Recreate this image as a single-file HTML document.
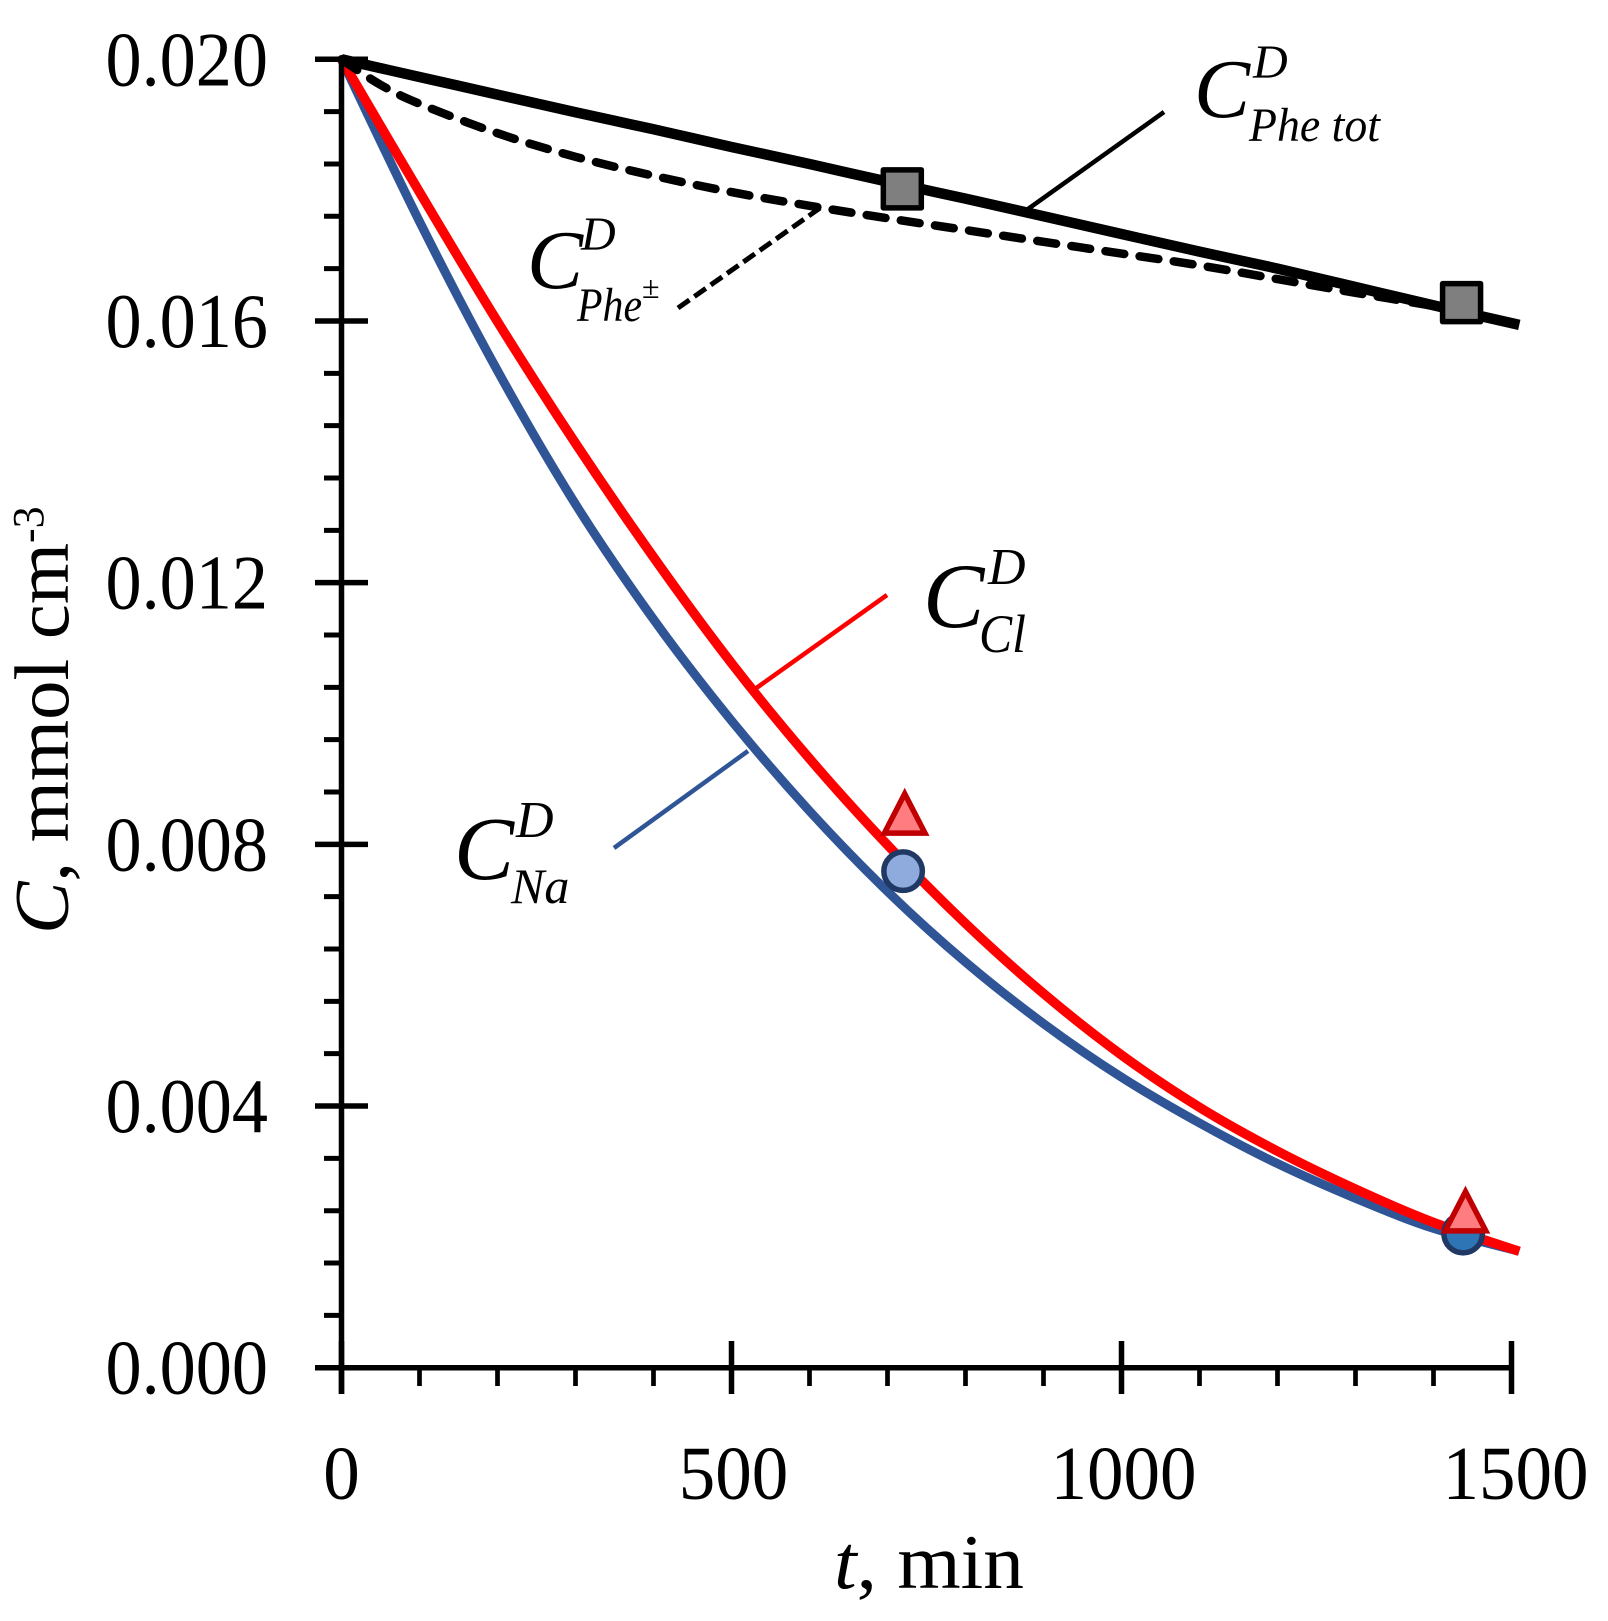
<!DOCTYPE html>
<html lang="en">
<head>
<meta charset="utf-8">
<title>Concentration vs time chart</title>
<style>
html,body{margin:0;padding:0;background:#fff;width:1608px;height:1621px;overflow:hidden}
svg{display:block;font-family:"Liberation Serif",serif;fill:#000}
.it{font-style:italic}
</style>
</head>
<body>
<svg id="chart" xmlns="http://www.w3.org/2000/svg" width="1608" height="1621" viewBox="0 0 1608 1621">
<rect x="0" y="0" width="1608" height="1621" fill="#fff"/>
<g id="series-layer"></g>
<g id="axis-layer"></g>
<g fill="none">
<line x1="1028" y1="209" x2="1164" y2="112" stroke="#000" stroke-width="4.5"/>
<line x1="678" y1="308" x2="820" y2="208" stroke="#000" stroke-width="5" stroke-dasharray="14 6"/>
<line x1="755" y1="689" x2="887" y2="595" stroke="#ff0000" stroke-width="4.5"/>
<line x1="614" y1="848" x2="748" y2="751" stroke="#2f5597" stroke-width="4.5"/>
</g>
<g id="marker-layer"></g>

<g>
<text class="it" x="1194" y="117" font-size="84">C</text>
<text class="it" x="1253" y="78" font-size="48">D</text>
<text class="it" x="1249" y="141" font-size="48" textLength="131" lengthAdjust="spacingAndGlyphs">Phe tot</text>
</g>
<g>
<text class="it" x="527" y="288" font-size="84">C</text>
<text class="it" x="581" y="250" font-size="48">D</text>
<text class="it" x="577" y="321" font-size="48" textLength="65" lengthAdjust="spacingAndGlyphs">Phe</text>
<text x="642" y="298" font-size="32">±</text>
</g>
<g>
<text class="it" x="923" y="627" font-size="92">C</text>
<text class="it" x="988" y="584" font-size="52">D</text>
<text class="it" x="979" y="652" font-size="54" textLength="47" lengthAdjust="spacingAndGlyphs">Cl</text>
</g>
<g>
<text class="it" x="454" y="879" font-size="90">C</text>
<text class="it" x="516" y="837" font-size="52">D</text>
<text class="it" x="511" y="903" font-size="50">Na</text>
</g>

<text x="834" y="1588" font-size="77" textLength="190" lengthAdjust="spacingAndGlyphs"><tspan class="it">t</tspan>, min</text>
<g transform="translate(68,934) rotate(-90)">
<text x="0" y="0" font-size="77" textLength="391" lengthAdjust="spacingAndGlyphs"><tspan class="it">C</tspan>, mmol cm</text>
<text x="391" y="-25" font-size="44">-3</text>
</g>
</svg>

<script>
// Chart data (time in min, concentration in mmol cm^-3)
const timesMain = [0,100,200,300,400,500,600,700,800,900,1000,1100,1200,1300,1400,1510];
const cNa = [0.0200,0.01752,0.01524,0.01320,0.01144,0.00989,0.00851,0.00728,0.00620,0.00526,0.00444,0.00374,0.00312,0.00259,0.00213,0.00178];
const cCl = [0.0200,0.01797,0.01599,0.01413,0.01239,0.01077,0.00931,0.00799,0.00679,0.00572,0.00478,0.00398,0.00331,0.00273,0.00222,0.00178];
const cPheTot = [0.0200,0.01973,0.01946,0.01919,0.01893,0.01866,0.01840,0.01813,0.01787,0.01760,0.01733,0.01706,0.01680,0.01652,0.01624,0.01594];
const timesZw = [0,50,100,200,300,400,500,600,700,800,900,1000,1100,1200,1300,1400,1440];
const cPheZw = [0.0200,0.01961,0.01932,0.01887,0.01851,0.01822,0.01797,0.01776,0.01757,0.01739,0.01721,0.01703,0.01685,0.01664,0.01643,0.01623,0.01614];
const squareT = [719,1436];
const squareC = [0.01802,0.01628];
const circleT = [720,1438];
const circleC = [0.00759,0.00205];
const triangleT = [722,1441];
const triangleC = [0.00850,0.00242];
const xTickLabels = ["0","500","1000","1500"];
const yTickLabels = ["0.000","0.004","0.008","0.012","0.016","0.020"];
const xMinorStep = 100;
const yMinorStep = 0.0008;

// Axis functions
const xScale = t => 341.5 + 0.78 * t;
const yScale = c => 1367.7 - 65420 * c;

const NS = "http://www.w3.org/2000/svg";
function make(tag, attrs, parent) {
  const el = document.createElementNS(NS, tag);
  for (const k in attrs) el.setAttribute(k, attrs[k]);
  parent.appendChild(el);
  return el;
}
function smoothPath(ts, cs) {
  const p = ts.map((t, i) => [xScale(t), yScale(cs[i])]);
  let d = "M" + p[0][0].toFixed(1) + " " + p[0][1].toFixed(1);
  for (let i = 0; i < p.length - 1; i++) {
    const a = p[Math.max(0, i - 1)], b = p[i], c = p[i + 1], e = p[Math.min(p.length - 1, i + 2)];
    const c1x = b[0] + (c[0] - a[0]) / 6, c1y = b[1] + (c[1] - a[1]) / 6;
    const c2x = c[0] - (e[0] - b[0]) / 6, c2y = c[1] - (e[1] - b[1]) / 6;
    d += " C" + c1x.toFixed(1) + " " + c1y.toFixed(1) + " " + c2x.toFixed(1) + " " + c2y.toFixed(1) + " " + c[0].toFixed(1) + " " + c[1].toFixed(1);
  }
  return d;
}

// Series
const seriesLayer = document.getElementById("series-layer");
const lineNa = make("path", {d: smoothPath(timesMain, cNa), fill: "none", stroke: "#2f5597", "stroke-width": 9}, seriesLayer);


const lineCl = make("path", {d: smoothPath(timesMain, cCl), fill: "none", stroke: "#ff0000", "stroke-width": 9.5}, seriesLayer);


const linePheZw = make("path", {d: smoothPath(timesZw, cPheZw), fill: "none", stroke: "#000", "stroke-width": 8.5, "stroke-linecap": "round", "stroke-dasharray": "19 15.5"}, seriesLayer);


const linePheTot = make("path", {d: smoothPath(timesMain, cPheTot), fill: "none", stroke: "#000", "stroke-width": 10.5}, seriesLayer);



// Axes
const axisLayer = document.getElementById("axis-layer");
const yAxisLine = make("line", {x1: xScale(0), x2: xScale(0), y1: yScale(0.02) - 3, y2: 1394, stroke: "#000", "stroke-width": 5.5}, axisLayer);


const xAxisLine = make("line", {x1: 315, x2: xScale(1500) + 2.5, y1: yScale(0), y2: yScale(0), stroke: "#000", "stroke-width": 5.5}, axisLayer);



xTickLabels.forEach(label => {
  const t = Number(label);
  const tick = make("line", {x1: xScale(t), x2: xScale(t), y1: 1341, y2: 1394, stroke: "#000", "stroke-width": 5.5}, axisLayer);
  
  
  const offset = t === 0 ? 0 : t === 500 ? 2 : t === 1000 ? 2 : 4;
  const txt = make("text", {x: xScale(t) + offset, y: 1499, "font-size": 76, "text-anchor": "middle", textLength: 36.5 * label.length, lengthAdjust: "spacingAndGlyphs"}, axisLayer);
  txt.textContent = label;
  
  
});
for (let t = xMinorStep; t < 1500; t += xMinorStep) {
  if (t % 500 === 0) continue;
  const minor = make("line", {x1: xScale(t), x2: xScale(t), y1: 1367, y2: 1386, stroke: "#000", "stroke-width": 4.7}, axisLayer);
  
  
}
yTickLabels.forEach(label => {
  const c = Number(label);
  const tick = make("line", {x1: 315, x2: 368, y1: yScale(c), y2: yScale(c), stroke: "#000", "stroke-width": 5.5}, axisLayer);
  
  
  const txt = make("text", {x: 105.5, y: yScale(c) + 26, "font-size": 77, textLength: 162.5, lengthAdjust: "spacingAndGlyphs"}, axisLayer);
  txt.textContent = label;
  
  
});
for (let k = 1; k < 25; k++) {
  if (k % 5 === 0) continue;
  const c = k * yMinorStep;
  const minor = make("line", {x1: 324, x2: xScale(0), y1: yScale(c), y2: yScale(c), stroke: "#000", "stroke-width": 5}, axisLayer);
  
  
}

// Markers
const markerLayer = document.getElementById("marker-layer");
squareT.forEach((t, i) => {
  const px = xScale(t), py = yScale(squareC[i]);
  const sq = make("rect", {x: px - 19, y: py - 19, width: 38, height: 38, fill: "#7f7f7f", stroke: "#000", "stroke-width": 5.5, "stroke-linejoin": "round"}, markerLayer);
  
  
});
circleT.forEach((t, i) => {
  const circleFill = i === 0 ? "#8faadc" : "#2e75b6";
  const ci = make("circle", {cx: xScale(t), cy: yScale(circleC[i]), r: 19.25, fill: circleFill, stroke: "#203864", "stroke-width": 5.5}, markerLayer);
  
  
});
triangleT.forEach((t, i) => {
  const px = xScale(t), py = yScale(triangleC[i]);
  const pts = [[px, py - 17.8], [px + 20.3, py + 21.5], [px - 20.3, py + 21.5]].map(p => p[0].toFixed(1) + "," + p[1].toFixed(1)).join(" ");
  const tri = make("polygon", {points: pts, fill: "#ff7c80", stroke: "#c00000", "stroke-width": 5.5}, markerLayer);
  
  
});
</script>
</body>
</html>
